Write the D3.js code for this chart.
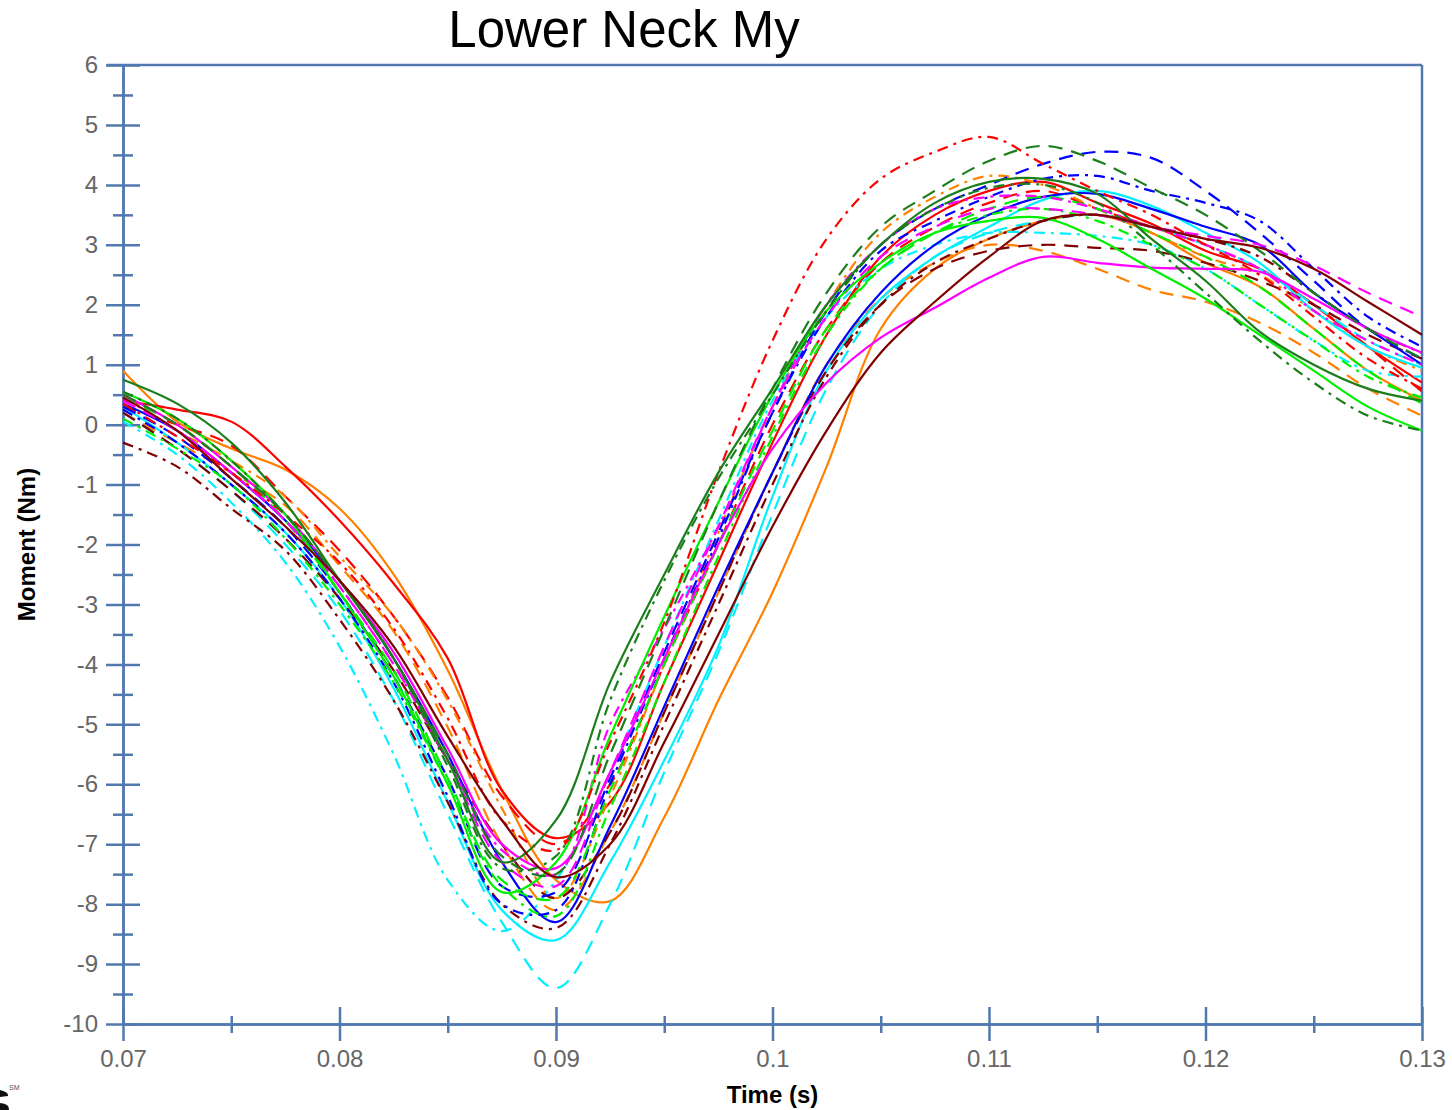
<!DOCTYPE html>
<html>
<head>
<meta charset="utf-8">
<script src="https://cdn.jsdelivr.net/npm/d3@7"></script>
<style>
  body { margin: 0; background: #fff; }
  svg { display: block; font-family: "Liberation Sans", Arial, sans-serif; }
</style>
</head>
<body>
<svg id="chart" width="1452" height="1110"></svg>
<script>
// sample times shared by every curve (s)
const times = [0.07, 0.0725, 0.075, 0.0775, 0.08, 0.0825, 0.085, 0.0875, 0.09, 0.0925, 0.095, 0.0975, 0.1,
  0.1025, 0.105, 0.1075, 0.11, 0.1125, 0.115, 0.1175, 0.12, 0.1225, 0.125, 0.1275, 0.13]

// moment values (Nm), one array per test curve
const redSolid = [0.4, 0.25, 0.05, -0.7, -1.6, -2.65, -3.9, -6.1, -6.9, -6.3, -4.3, -2.3, -0.3, 1.5, 2.8, 3.5, 3.9, 4.05, 3.7, 3.35, 2.9, 2.6, 2.0, 1.3, 0.7]
const redDashed = [0.3, 0.0, -0.35, -1.2, -2.1, -3.2, -4.55, -6.2, -7.0, -6.0, -4.0, -2.0, 0.0, 1.6, 2.7, 3.3, 3.7, 3.9, 3.6, 3.3, 3.0, 2.6, 2.0, 1.3, 0.55]
const redDashDot = [0.35, -0.2, -0.8, -1.5, -2.3, -3.4, -4.9, -6.6, -7.1, -5.3, -3.3, -0.8, 1.4, 3.1, 4.1, 4.55, 4.8, 4.35, 3.9, 3.5, 3.0, 2.5, 1.8, 1.1, 0.6]
const orangeSolid = [0.9, 0.05, -0.4, -0.75, -1.4, -2.5, -4.1, -6.1, -7.6, -7.95, -6.55, -4.6, -2.8, -0.7, 1.6, 2.6, 3.1, 3.4, 3.5, 3.2, 2.7, 2.3, 1.6, 0.9, 0.4]
const orangeDashed = [0.2, -0.3, -0.8, -1.35, -2.35, -3.45, -5.05, -7.0, -8.1, -6.8, -4.8, -2.8, -0.8, 1.0, 2.1, 2.7, 3.0, 2.9, 2.6, 2.25, 2.05, 1.7, 1.2, 0.6, 0.15]
const orangeDashDot = [0.5, -0.1, -0.6, -1.2, -2.2, -3.2, -4.6, -6.4, -7.9, -6.2, -4.0, -1.8, 0.3, 2.0, 3.2, 3.8, 4.15, 4.0, 3.6, 3.2, 2.8, 2.5, 1.9, 1.3, 0.9]
const darkGreenSolid = [0.75, 0.35, -0.3, -1.3, -2.6, -3.9, -5.6, -7.3, -6.6, -4.3, -2.5, -0.8, 0.6, 2.0, 3.0, 3.7, 4.05, 4.1, 3.85, 3.1, 2.4, 1.55, 1.0, 0.6, 0.4]
const darkGreenDashed = [0.5, 0.0, -0.7, -1.5, -2.6, -3.9, -5.5, -7.2, -7.5, -5.5, -3.4, -1.3, 0.6, 2.2, 3.3, 3.9, 4.4, 4.65, 4.4, 3.95, 3.5, 2.9, 2.2, 1.6, 1.1]
const darkGreenDashDot = [0.55, 0.1, -0.6, -1.5, -2.6, -3.9, -5.7, -7.4, -7.2, -4.6, -2.6, -0.9, 0.5, 1.9, 3.0, 3.6, 3.95, 4.0, 3.7, 3.0, 2.2, 1.4, 0.7, 0.15, -0.1]
const limeSolid = [0.55, 0.1, -0.6, -1.5, -2.8, -4.2, -6.0, -7.8, -7.3, -5.2, -3.2, -1.3, 0.5, 1.9, 2.7, 3.2, 3.4, 3.45, 3.1, 2.6, 2.1, 1.5, 0.9, 0.3, -0.1]
const limeDashed = [0.45, 0.0, -0.7, -1.6, -2.8, -4.1, -5.9, -7.6, -7.9, -6.1, -4.0, -2.0, -0.1, 1.6, 2.6, 3.2, 3.6, 3.8, 3.6, 3.2, 2.8, 2.3, 1.6, 0.9, 0.35]
const limeDashDot = [0.1, -0.4, -1.0, -1.9, -3.0, -4.3, -6.0, -7.7, -8.2, -6.4, -4.3, -2.2, -0.2, 1.5, 2.6, 3.2, 3.5, 3.6, 3.4, 3.0, 2.6, 2.0, 1.4, 0.8, 0.45]
const blueSolid = [0.35, -0.1, -0.8, -1.6, -2.6, -3.9, -5.5, -7.3, -8.3, -6.7, -4.7, -2.7, -0.8, 1.0, 2.2, 3.0, 3.5, 3.8, 3.85, 3.6, 3.3, 3.0, 2.2, 1.6, 1.0]
const blueDashed = [0.3, -0.2, -0.9, -1.7, -2.8, -4.2, -5.9, -7.7, -7.8, -5.9, -3.8, -1.8, 0.2, 1.9, 3.0, 3.6, 4.0, 4.35, 4.55, 4.45, 3.9, 3.2, 2.4, 1.6, 1.1]
const blueDashDot = [0.25, -0.3, -1.0, -1.8, -2.9, -4.3, -6.2, -8.0, -8.1, -6.0, -3.9, -1.9, 0.2, 1.8, 2.9, 3.4, 3.8, 4.1, 4.15, 3.9, 3.7, 3.4, 2.6, 1.8, 1.3]
const cyanSolid = [0.3, -0.3, -1.0, -1.8, -2.9, -4.4, -6.3, -8.1, -8.6, -7.3, -5.6, -3.7, -1.2, 0.9, 2.1, 2.8, 3.3, 3.75, 3.9, 3.65, 3.2, 2.7, 1.9, 1.3, 0.95]
const cyanDashed = [0.2, -0.4, -1.1, -2.0, -3.1, -4.6, -6.5, -8.3, -9.4, -8.0, -5.8, -3.8, -1.5, 0.6, 2.0, 2.8, 3.2, 3.4, 3.5, 3.3, 3.0, 2.6, 2.0, 1.4, 1.0]
const cyanDashDot = [0.05, -0.5, -1.3, -2.3, -3.7, -5.5, -7.6, -8.45, -7.6, -5.8, -3.7, -1.6, 0.4, 1.8, 2.6, 3.0, 3.2, 3.2, 3.15, 3.0, 2.6, 2.0, 1.4, 0.9, 0.8]
const magentaSolid = [0.5, 0.0, -0.7, -1.5, -2.6, -3.8, -5.4, -7.0, -7.4, -5.8, -3.9, -2.0, -0.4, 0.7, 1.45, 1.95, 2.45, 2.8, 2.7, 2.62, 2.6, 2.55, 2.1, 1.6, 1.2]
const magentaDashed = [0.4, -0.1, -0.8, -1.6, -2.7, -4.0, -5.6, -7.3, -7.7, -5.8, -3.7, -1.7, 0.3, 1.8, 2.8, 3.3, 3.6, 3.6, 3.5, 3.3, 3.15, 3.0, 2.65, 2.2, 1.8]
const magentaDashDot = [0.45, -0.1, -0.8, -1.6, -2.7, -4.0, -5.6, -7.1, -7.5, -5.0, -3.4, -1.7, 0.3, 2.0, 3.0, 3.6, 3.8, 3.8, 3.6, 3.3, 3.0, 2.6, 1.9, 1.4, 1.0]
const maroonSolid = [0.45, -0.1, -0.9, -1.7, -2.6, -3.7, -5.2, -6.6, -7.55, -7.0, -5.3, -3.5, -1.7, -0.1, 1.2, 2.05, 2.8, 3.4, 3.5, 3.3, 3.1, 2.95, 2.6, 2.05, 1.5]
const maroonDashed = [0.2, -0.4, -1.1, -1.9, -2.9, -4.1, -5.6, -7.0, -7.9, -6.8, -4.8, -2.8, -0.8, 0.9, 2.0, 2.6, 2.9, 3.0, 2.95, 2.9, 2.7, 2.4, 2.0, 1.5, 1.1]
const maroonDashDot = [-0.3, -0.7, -1.4, -2.1, -3.25, -4.6, -6.3, -8.0, -8.4, -7.0, -5.0, -3.0, -1.0, 0.8, 2.0, 2.7, 3.1, 3.4, 3.5, 3.3, 3.1, 2.8, 2.2, 1.6, 1.2]

// axis ticks
const xMajorTicks = [0.07, 0.08, 0.09, 0.1, 0.11, 0.12, 0.13]
const xTickLabels = ["0.07", "0.08", "0.09", "0.1", "0.11", "0.12", "0.13"]
const xMinorTicks = [0.075, 0.085, 0.095, 0.105, 0.115, 0.125]
const yMajorTicks = [6, 5, 4, 3, 2, 1, 0, -1, -2, -3, -4, -5, -6, -7, -8, -9, -10]
const yTickLabels = ["6", "5", "4", "3", "2", "1", "0", "-1", "-2", "-3", "-4", "-5", "-6", "-7", "-8", "-9", "-10"]
const yMinorTicks = [5.5, 4.5, 3.5, 2.5, 1.5, 0.5, -0.5, -1.5, -2.5, -3.5, -4.5, -5.5, -6.5, -7.5, -8.5, -9.5]

// line styles, paired with the arrays above
const dashed = "14,9"
const dashDot = "11,6,3,6"
const curves = [
  { values: orangeSolid, color: "#ff8000", dash: null },
  { values: redSolid, color: "#ff0000", dash: null },
  { values: redDashed, color: "#ff0000", dash: dashed },
  { values: orangeDashed, color: "#ff8000", dash: dashed },
  { values: orangeDashDot, color: "#ff8000", dash: dashDot },
  { values: cyanDashed, color: "#00f0ff", dash: dashed },
  { values: cyanDashDot, color: "#00f0ff", dash: dashDot },
  { values: cyanSolid, color: "#00f0ff", dash: null },
  { values: maroonDashDot, color: "#800000", dash: dashDot },
  { values: maroonDashed, color: "#800000", dash: dashed },
  { values: blueDashed, color: "#0000ff", dash: dashed },
  { values: blueDashDot, color: "#0000ff", dash: dashDot },
  { values: blueSolid, color: "#0000ff", dash: null },
  { values: limeDashDot, color: "#00ee00", dash: dashDot },
  { values: limeDashed, color: "#00ee00", dash: dashed },
  { values: magentaDashed, color: "#ff00ff", dash: dashed },
  { values: magentaDashDot, color: "#ff00ff", dash: dashDot },
  { values: magentaSolid, color: "#ff00ff", dash: null },
  { values: limeSolid, color: "#00ee00", dash: null },
  { values: redDashDot, color: "#ff0000", dash: dashDot },
  { values: darkGreenDashed, color: "#1a7f1a", dash: dashed },
  { values: darkGreenDashDot, color: "#1a7f1a", dash: dashDot },
  { values: darkGreenSolid, color: "#1a7f1a", dash: null },
  { values: maroonSolid, color: "#800000", dash: null },
]

const dimensions = {
  width: 1299,
  height: 959,
  margin: { top: 65, right: 30, bottom: 86, left: 123 },
}
const axisColor = "#5279af"

const svg = d3.select("#chart")

// scales
const xScale = d3.scaleLinear().domain([0.07, 0.13]).range([0, dimensions.width])
const yScale = d3.scaleLinear().domain([-10, 6]).range([dimensions.height, 0])

const graph = svg
  .append("g")
  .attr("transform", `translate(${dimensions.margin.left}, ${dimensions.margin.top})`)

// frame: top and right edges
graph.append("line")
  .attr("x1", -16).attr("x2", dimensions.width)
  .attr("y1", 0).attr("y2", 0)
  .attr("stroke", axisColor).attr("stroke-width", 2.5)
graph.append("line")
  .attr("x1", dimensions.width).attr("x2", dimensions.width)
  .attr("y1", 0).attr("y2", dimensions.height)
  .attr("stroke", axisColor).attr("stroke-width", 2.5)

// styling helper for both axes
const styleAxis = (g) => {
  g.select(".domain").attr("stroke", axisColor).attr("stroke-width", 2.5)
  g.selectAll(".tick line").attr("stroke", axisColor).attr("stroke-width", 2.5)
  g.selectAll(".tick text")
    .attr("fill", "#666")
    .style("font-size", "24px")
    .style("font-family", "'Liberation Sans', Arial, sans-serif")
}

// y axis, major ticks cross the axis line
const yAxis = d3.axisLeft(yScale)
  .tickValues(yMajorTicks)
  .tickFormat((d, i) => yTickLabels[i])
  .tickSize(17)
  .tickSizeOuter(0)
  .tickPadding(8)
const yAxisG = graph.append("g").call(yAxis)
styleAxis(yAxisG)
yAxisG.selectAll(".tick line").attr("x1", 17)
const yMinor = d3.axisLeft(yScale).tickValues(yMinorTicks).tickSize(10).tickSizeOuter(0).tickFormat("")
const yMinorG = graph.append("g").call(yMinor)
styleAxis(yMinorG)
yMinorG.selectAll(".tick line").attr("x1", 10)

// x axis
const xAxis = d3.axisBottom(xScale)
  .tickValues(xMajorTicks)
  .tickFormat((d, i) => xTickLabels[i])
  .tickSize(17)
  .tickSizeOuter(0)
  .tickPadding(9)
const xAxisG = graph.append("g").attr("transform", `translate(0, ${dimensions.height})`).call(xAxis)
styleAxis(xAxisG)
xAxisG.selectAll(".tick line").attr("y1", -17)
const xMinor = d3.axisBottom(xScale).tickValues(xMinorTicks).tickSize(9).tickSizeOuter(0).tickFormat("")
const xMinorG = graph.append("g").attr("transform", `translate(0, ${dimensions.height})`).call(xMinor)
styleAxis(xMinorG)
xMinorG.selectAll(".tick line").attr("y1", -8)

// curves
const lineGen = d3.line()
  .x((d, i) => xScale(times[i]))
  .y((d) => yScale(d))
  .curve(d3.curveCatmullRom.alpha(0.5))

graph.selectAll(".curve")
  .data(curves)
  .join("path")
  .attr("class", "curve")
  .attr("fill", "none")
  .attr("stroke", (d) => d.color)
  .attr("stroke-width", 2.2)
  .attr("stroke-dasharray", (d) => d.dash)
  .attr("d", (d) => lineGen(d.values))

// titles
svg.append("text")
  .attr("x", 624).attr("y", 47)
  .attr("text-anchor", "middle")
  .style("font-size", "51px")
  .text("Lower Neck My")
svg.append("text")
  .attr("x", dimensions.margin.left + dimensions.width / 2).attr("y", 1103)
  .attr("text-anchor", "middle")
  .style("font-size", "24px").style("font-weight", "bold")
  .text("Time (s)")
svg.append("text")
  .attr("transform", `translate(35, ${dimensions.margin.top + dimensions.height / 2}) rotate(-90)`)
  .attr("text-anchor", "middle")
  .style("font-size", "24px").style("font-weight", "bold")
  .text("Moment (Nm)")

// cut-off logo mark in the corner
svg.append("path")
  .attr("d", "M0,1090 Q9,1092 8,1096 L0,1097 Z M0,1103 Q10,1104 9,1110 L0,1110 Z")
  .attr("fill", "#111")
svg.append("text").attr("x", 9).attr("y", 1090)
  .attr("fill", "#555").style("font-size", "7px").text("SM")
</script>
</body>
</html>
